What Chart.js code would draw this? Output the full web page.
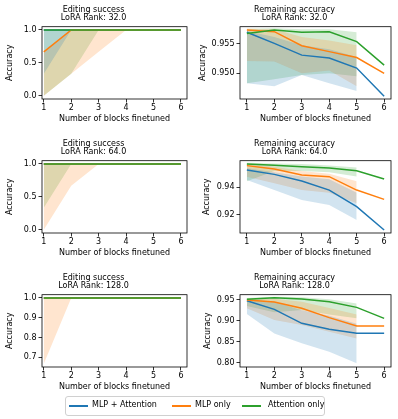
<!DOCTYPE html>
<html>
<head>
<meta charset="utf-8">
<script src="https://cdn.jsdelivr.net/npm/chart.js@4"></script>
<style>
  body { margin: 0; background: #fff; }
  #wrap { position: relative; width: 398px; height: 419px; overflow: hidden; font-family: 'DejaVu Sans'; }
  canvas { position: absolute; }
  #legend { position: absolute; left: 65px; top: 396px; width: 258px; height: 18px; border: 1px solid #d0d0d0; border-radius: 3px; background: #fff; font-size: 8px; color: #000; }
  #legend .ln { position: absolute; top: 8px; width: 19px; height: 1.5px; }
  #legend .tx { position: absolute; top: 3px; line-height: 10px; white-space: nowrap; }
</style>
</head>
<body>
<div id="wrap">
  <canvas id="c1" width="198" height="130" style="left:0;top:0"></canvas>
  <canvas id="c2" width="200" height="130" style="left:198px;top:0"></canvas>
  <canvas id="c3" width="198" height="130" style="left:0;top:134px"></canvas>
  <canvas id="c4" width="200" height="130" style="left:198px;top:134px"></canvas>
  <canvas id="c5" width="198" height="130" style="left:0;top:268px"></canvas>
  <canvas id="c6" width="200" height="130" style="left:198px;top:268px"></canvas>
  <div id="legend"></div>
</div>
<script>
// x values
const blocks = [1, 2, 3, 4, 5, 6];
const bandBlocks = [1, 2, 3, 4, 5];
const blockTicks = ['1', '2', '3', '4', '5', '6'];
const seriesNames = ['MLP + Attention', 'MLP only', 'Attention only'];

// Editing success, LoRA rank 32
const succ32MlpAttn   = [1, 1, 1, 1, 1, 1];
const succ32MlpAttnLo = [0.333, 1, 1, 1, 1];
const succ32MlpAttnHi = [1, 1, 1, 1, 1];
const succ32Mlp       = [0.667, 1, 1, 1, 1, 1];
const succ32MlpLo     = [0, 0.333, 0.667, 1, 1];
const succ32MlpHi     = [0.667, 1, 1, 1, 1];
const succ32Attn      = [1, 1, 1, 1, 1, 1];
const succ32AttnLo    = [0, 0.333, 1, 1, 1];
const succ32AttnHi    = [1, 1, 1, 1, 1];
const succ32YTicks    = ['0.0', '0.5', '1.0'];

// Remaining accuracy, LoRA rank 32
const rem32MlpAttn   = [0.9570, 0.9551, 0.9531, 0.9526, 0.9509, 0.9461];
const rem32MlpAttnLo = [0.9483, 0.9478, 0.9497, 0.9483, 0.9470];
const rem32MlpAttnHi = [0.9572, 0.9562, 0.9548, 0.9541, 0.9528];
const rem32Mlp       = [0.9574, 0.9571, 0.9547, 0.9537, 0.9527, 0.9500];
const rem32MlpLo     = [0.9521, 0.9520, 0.9500, 0.9505, 0.9478];
const rem32MlpHi     = [0.9576, 0.9575, 0.9562, 0.9556, 0.9548];
const rem32Attn      = [0.9568, 0.9574, 0.9570, 0.9571, 0.9554, 0.9514];
const rem32AttnLo    = [0.9483, 0.9490, 0.9497, 0.9500, 0.9495];
const rem32AttnHi    = [0.9576, 0.9577, 0.9575, 0.9575, 0.9570];
const rem32YTicks    = ['0.950', '0.955'];

// Editing success, LoRA rank 64
const succ64MlpAttn   = [1, 1, 1, 1, 1, 1];
const succ64MlpAttnLo = [1, 1, 1, 1, 1];
const succ64MlpAttnHi = [1, 1, 1, 1, 1];
const succ64Mlp       = [1, 1, 1, 1, 1, 1];
const succ64MlpLo     = [0, 0.667, 1, 1, 1];
const succ64MlpHi     = [1, 1, 1, 1, 1];
const succ64Attn      = [1, 1, 1, 1, 1, 1];
const succ64AttnLo    = [0.333, 1, 1, 1, 1];
const succ64AttnHi    = [1, 1, 1, 1, 1];
const succ64YTicks    = ['0.0', '0.5', '1.0'];

// Remaining accuracy, LoRA rank 64
const rem64MlpAttn   = [0.9527, 0.9495, 0.9446, 0.9380, 0.9259, 0.9088];
const rem64MlpAttnLo = [0.9454, 0.9380, 0.9307, 0.9271, 0.9161];
const rem64MlpAttnHi = [0.9540, 0.9510, 0.9480, 0.9460, 0.9360];
const rem64Mlp       = [0.9559, 0.9534, 0.9490, 0.9478, 0.9380, 0.9312];
const rem64MlpLo     = [0.9478, 0.9430, 0.9380, 0.9360, 0.9283];
const rem64MlpHi     = [0.9570, 0.9550, 0.9520, 0.9500, 0.9445];
const rem64Attn      = [0.9571, 0.9561, 0.9551, 0.9541, 0.9522, 0.9461];
const rem64AttnLo    = [0.9445, 0.9520, 0.9520, 0.9510, 0.9480];
const rem64AttnHi    = [0.9580, 0.9575, 0.9570, 0.9560, 0.9545];
const rem64YTicks    = ['0.92', '0.94'];

// Editing success, LoRA rank 128
const succ128MlpAttn   = [1, 1, 1, 1, 1, 1];
const succ128MlpAttnLo = [1, 1, 1, 1, 1];
const succ128MlpAttnHi = [1, 1, 1, 1, 1];
const succ128Mlp       = [1, 1, 1, 1, 1, 1];
const succ128MlpLo     = [0.667, 1, 1, 1, 1];
const succ128MlpHi     = [1, 1, 1, 1, 1];
const succ128Attn      = [1, 1, 1, 1, 1, 1];
const succ128AttnLo    = [1, 1, 1, 1, 1];
const succ128AttnHi    = [1, 1, 1, 1, 1];
const succ128YTicks    = ['0.7', '0.8', '0.9', '1.0'];

// Remaining accuracy, LoRA rank 128
const rem128MlpAttn   = [0.9476, 0.9271, 0.8940, 0.8797, 0.8703, 0.8703];
const rem128MlpAttnLo = [0.9160, 0.8700, 0.8466, 0.8268, 0.7992];
const rem128MlpAttnHi = [0.9510, 0.9450, 0.9250, 0.9120, 0.8930];
const rem128Mlp       = [0.9492, 0.9445, 0.9295, 0.9074, 0.8876, 0.8876];
const rem128MlpLo     = [0.9295, 0.9018, 0.8900, 0.8740, 0.8580];
const rem128MlpHi     = [0.9520, 0.9520, 0.9450, 0.9300, 0.9150];
const rem128Attn      = [0.9508, 0.9547, 0.9516, 0.9453, 0.9318, 0.9058];
const rem128AttnLo    = [0.9350, 0.9200, 0.9255, 0.9150, 0.9060];
const rem128AttnHi    = [0.9540, 0.9570, 0.9560, 0.9510, 0.9410];
const rem128YTicks    = ['0.80', '0.85', '0.90', '0.95'];

const colors = ['31,119,180', '255,127,14', '44,160,44'];

Chart.defaults.font.family = 'DejaVu Sans';
Chart.defaults.font.size = 8;
Chart.defaults.color = '#000';

// box around the plot like matplotlib spines
const frame = {
  id: 'frame',
  afterDatasetsDraw(chart) {
    const a = chart.chartArea, ctx = chart.ctx;
    ctx.save();
    ctx.strokeStyle = '#000';
    ctx.lineWidth = 0.8;
    ctx.strokeRect(a.left, a.top, a.right - a.left, a.bottom - a.top);
    ctx.restore();
  }
};

function pts(xs, ys) {
  return xs.map((x, i) => ({x: x, y: ys[i]}));
}

function makeChart(id, title, series, yTicks, ymin, ymax, xmin, xmax, padRight, yTitlePad) {
  const datasets = [];
  series.forEach((s, k) => {
    datasets.push({ data: pts(bandBlocks, s[2]), fill: '+1', backgroundColor: 'rgba(' + colors[k] + ',0.2)',
      borderColor: 'rgba(0,0,0,0)', borderWidth: 0, pointRadius: 0, order: 10 });
    datasets.push({ data: pts(bandBlocks, s[1]), fill: false,
      borderColor: 'rgba(0,0,0,0)', borderWidth: 0, pointRadius: 0, order: 10 });
  });
  series.forEach((s, k) => {
    datasets.push({ label: seriesNames[k], data: pts(blocks, s[0]), fill: false, borderColor: 'rgb(' + colors[k] + ')',
      borderWidth: 1.5, pointRadius: 0, tension: 0, order: 3 - k });
  });
  const gridOpts = { drawOnChartArea: false, drawTicks: true, tickLength: 3.5, color: '#000', lineWidth: 0.8 };
  new Chart(document.getElementById(id), {
    type: 'line',
    data: { datasets: datasets },
    plugins: [frame],
    options: {
      responsive: false,
      animation: false,
      events: [],
      layout: { padding: { top: 0, left: 0, right: padRight, bottom: 0 } },
      plugins: {
        legend: { display: false },
        tooltip: { enabled: false },
        filler: { drawTime: 'beforeDatasetsDraw' },
        title: { display: true, text: title, color: '#000',
          font: { size: 8, weight: 'normal', lineHeight: 1.0 },
          padding: { top: 5.5, bottom: 5.2 } }
      },
      scales: {
        x: {
          type: 'linear', min: xmin, max: xmax,
          afterBuildTicks: s => { s.ticks = blockTicks.map(t => ({value: +t})); },
          afterFit: s => { s.height = 31; },
          ticks: { callback: (v, i) => blockTicks[i], padding: 1, maxRotation: 0, autoSkip: false },
          grid: gridOpts,
          border: { display: false },
          title: { display: true, text: 'Number of blocks finetuned', padding: { top: 0, bottom: 6.2 } }
        },
        y: {
          min: ymin, max: ymax,
          afterBuildTicks: s => { s.ticks = yTicks.map(t => ({value: +t})); },
          afterFit: s => { s.width = 42; },
          ticks: { callback: (v, i) => yTicks[i], padding: 2 },
          grid: gridOpts,
          border: { display: false },
          title: { display: true, text: 'Accuracy', padding: { top: yTitlePad, bottom: 0 } }
        }
      }
    }
  });
}

makeChart('c1', ['Editing success', 'LoRA Rank: 32.0'],
  [[succ32MlpAttn, succ32MlpAttnLo, succ32MlpAttnHi], [succ32Mlp, succ32MlpLo, succ32MlpHi], [succ32Attn, succ32AttnLo, succ32AttnHi]],
  succ32YTicks, -0.05, 1.05, 0.935, 6.22, 11, 5);
makeChart('c2', ['Remaining accuracy', 'LoRA Rank: 32.0'],
  [[rem32MlpAttn, rem32MlpAttnLo, rem32MlpAttnHi], [rem32Mlp, rem32MlpLo, rem32MlpHi], [rem32Attn, rem32AttnLo, rem32AttnHi]],
  rem32YTicks, 0.94562, 0.95795, 0.75, 6.25, 7, 0);
makeChart('c3', ['Editing success', 'LoRA Rank: 64.0'],
  [[succ64MlpAttn, succ64MlpAttnLo, succ64MlpAttnHi], [succ64Mlp, succ64MlpLo, succ64MlpHi], [succ64Attn, succ64AttnLo, succ64AttnHi]],
  succ64YTicks, -0.05, 1.05, 0.935, 6.22, 11, 5);
makeChart('c4', ['Remaining accuracy', 'LoRA Rank: 64.0'],
  [[rem64MlpAttn, rem64MlpAttnLo, rem64MlpAttnHi], [rem64Mlp, rem64MlpLo, rem64MlpHi], [rem64Attn, rem64AttnLo, rem64AttnHi]],
  rem64YTicks, 0.9066, 0.9595, 0.75, 6.25, 7, 4);
makeChart('c5', ['Editing success', 'LoRA Rank: 128.0'],
  [[succ128MlpAttn, succ128MlpAttnLo, succ128MlpAttnHi], [succ128Mlp, succ128MlpLo, succ128MlpHi], [succ128Attn, succ128AttnLo, succ128AttnHi]],
  succ128YTicks, 0.65, 1.0167, 0.935, 6.22, 11, 5);
makeChart('c6', ['Remaining accuracy', 'LoRA Rank: 128.0'],
  [[rem128MlpAttn, rem128MlpAttnLo, rem128MlpAttnHi], [rem128Mlp, rem128MlpLo, rem128MlpHi], [rem128Attn, rem128AttnLo, rem128AttnHi]],
  rem128YTicks, 0.7905, 0.9618, 0.75, 6.25, 7, 5);

// shared legend under the grid
const legendPos = [[2.7, 26], [106, 129], [176, 202]];
const legend = document.getElementById('legend');
seriesNames.forEach((name, k) => {
  const ln = document.createElement('div');
  ln.className = 'ln';
  ln.style.left = legendPos[k][0] + 'px';
  ln.style.background = 'rgb(' + colors[k] + ')';
  legend.appendChild(ln);
  const tx = document.createElement('span');
  tx.className = 'tx';
  tx.style.left = legendPos[k][1] + 'px';
  tx.textContent = name;
  legend.appendChild(tx);
});
</script>
</body>
</html>
